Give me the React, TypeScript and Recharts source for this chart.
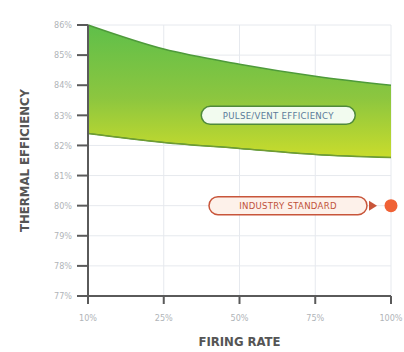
import React from 'react';
import {
  ComposedChart, Area, Line, XAxis, YAxis, CartesianGrid, ReferenceDot,
} from 'recharts';

const rates = ['10%', '25%', '50%', '75%', '100%'];
const bandHigh = [86.0, 85.2, 84.7, 84.3, 84.0];
const bandLow = [82.4, 82.1, 81.9, 81.7, 81.6];
const industry = [null, null, null, null, 80];
const yTicks = [77, 78, 79, 80, 81, 82, 83, 84, 85, 86];

const data = rates.map((r, i) => ({
  rate: r,
  band: [bandLow[i], bandHigh[i]],
  low: bandLow[i],
  std: industry[i],
}));

const font = "'DejaVu Sans Condensed', 'Liberation Sans Narrow', sans-serif";

const Pill = ({ x, y, w, text, stroke, fill, color, arrow }: any) => (
  <g>
    <rect x={x} y={y - 9} width={w} height={18} rx={9} fill={fill} stroke={stroke} strokeWidth={1.5} />
    <text x={x + w / 2} y={y + 3.5} textAnchor="middle" fontSize={9.5} fontFamily={font} fill={color} letterSpacing={0.3}>
      {text}
    </text>
    {arrow && <polygon points={`${x + w + 2},${y - 5} ${x + w + 10},${y} ${x + w + 2},${y + 5}`} fill={stroke} />}
  </g>
);

const StdDot = (props: any) => {
  const { cx, cy, value } = props;
  if (value == null || cx == null) return null;
  return (
    <g>
      <Pill x={cx - 182} y={cy} w={158} text="INDUSTRY STANDARD" stroke="#c8553a" fill="#fdf1ea" color="#c0523a" arrow />
      <circle cx={cx} cy={cy} r={6.5} fill="#f06236" />
    </g>
  );
};

const BandLabel = (props: any) => {
  const { viewBox } = props;
  if (!viewBox) return null;
  return <Pill x={viewBox.x - 114} y={viewBox.y} w={154} text="PULSE/VENT EFFICIENCY" stroke="#4f8a3a" fill="#f2fbef" color="#5a7a9a" />;
};

export default function App() {
  return (
    <div style={{ position: 'absolute', left: 0, top: 0, background: '#fff' }}>
      <ComposedChart width={404} height={352} data={data} margin={{ top: 25, right: 13, bottom: 0, left: 0 }}>
        <defs>
          <linearGradient id="bandFill" x1="0" y1="0" x2="0" y2="1">
            <stop offset="0%" stopColor="#5fbf4a" />
            <stop offset="55%" stopColor="#8cc63f" />
            <stop offset="100%" stopColor="#c9dc2c" />
          </linearGradient>
        </defs>
        <CartesianGrid stroke="#e6e9ee" strokeWidth={1} />
        <XAxis
          dataKey="rate"
          height={56}
          padding={{ left: 0, right: 0 }}
          tick={{ fill: '#b0b4b8', fontSize: 9, fontFamily: font }}
          tickSize={8}
          axisLine={{ stroke: '#5a5a5a', strokeWidth: 2 }}
          tickLine={{ stroke: '#5a5a5a', strokeWidth: 2 }}
          tickMargin={11}
          label={{ value: 'FIRING RATE', position: 'insideBottom', offset: 6, fill: '#555', fontSize: 13, fontWeight: 'bold', fontFamily: font }}
        />
        <YAxis
          domain={[77, 86]}
          ticks={yTicks}
          width={88}
          tickFormatter={(v: number) => `${v}%`}
          tick={{ fill: '#b0b4b8', fontSize: 9, fontFamily: font }}
          tickSize={11}
          tickMargin={5}
          axisLine={{ stroke: '#5a5a5a', strokeWidth: 2 }}
          tickLine={{ stroke: '#5a5a5a', strokeWidth: 2 }}
          label={{ value: 'THERMAL EFFICIENCY', angle: -90, position: 'insideLeft', offset: 24, textAnchor: 'middle', fill: '#555', fontSize: 13, fontWeight: 'bold', fontFamily: font }}
        />
        <Area
          type="monotone"
          dataKey="band"
          stroke="#4e9a3a"
          strokeWidth={1.5}
          fill="url(#bandFill)"
          fillOpacity={1}
          isAnimationActive={false}
        />
        <Line type="monotone" dataKey="low" stroke="#7a9a30" strokeWidth={1} dot={false} isAnimationActive={false} />
        <Line dataKey="std" stroke="none" dot={<StdDot />} activeDot={false} isAnimationActive={false} />
        <ReferenceDot x="75%" y={83} r={0} fill="none" stroke="none" label={<BandLabel />} />
      </ComposedChart>
    </div>
  );
}
